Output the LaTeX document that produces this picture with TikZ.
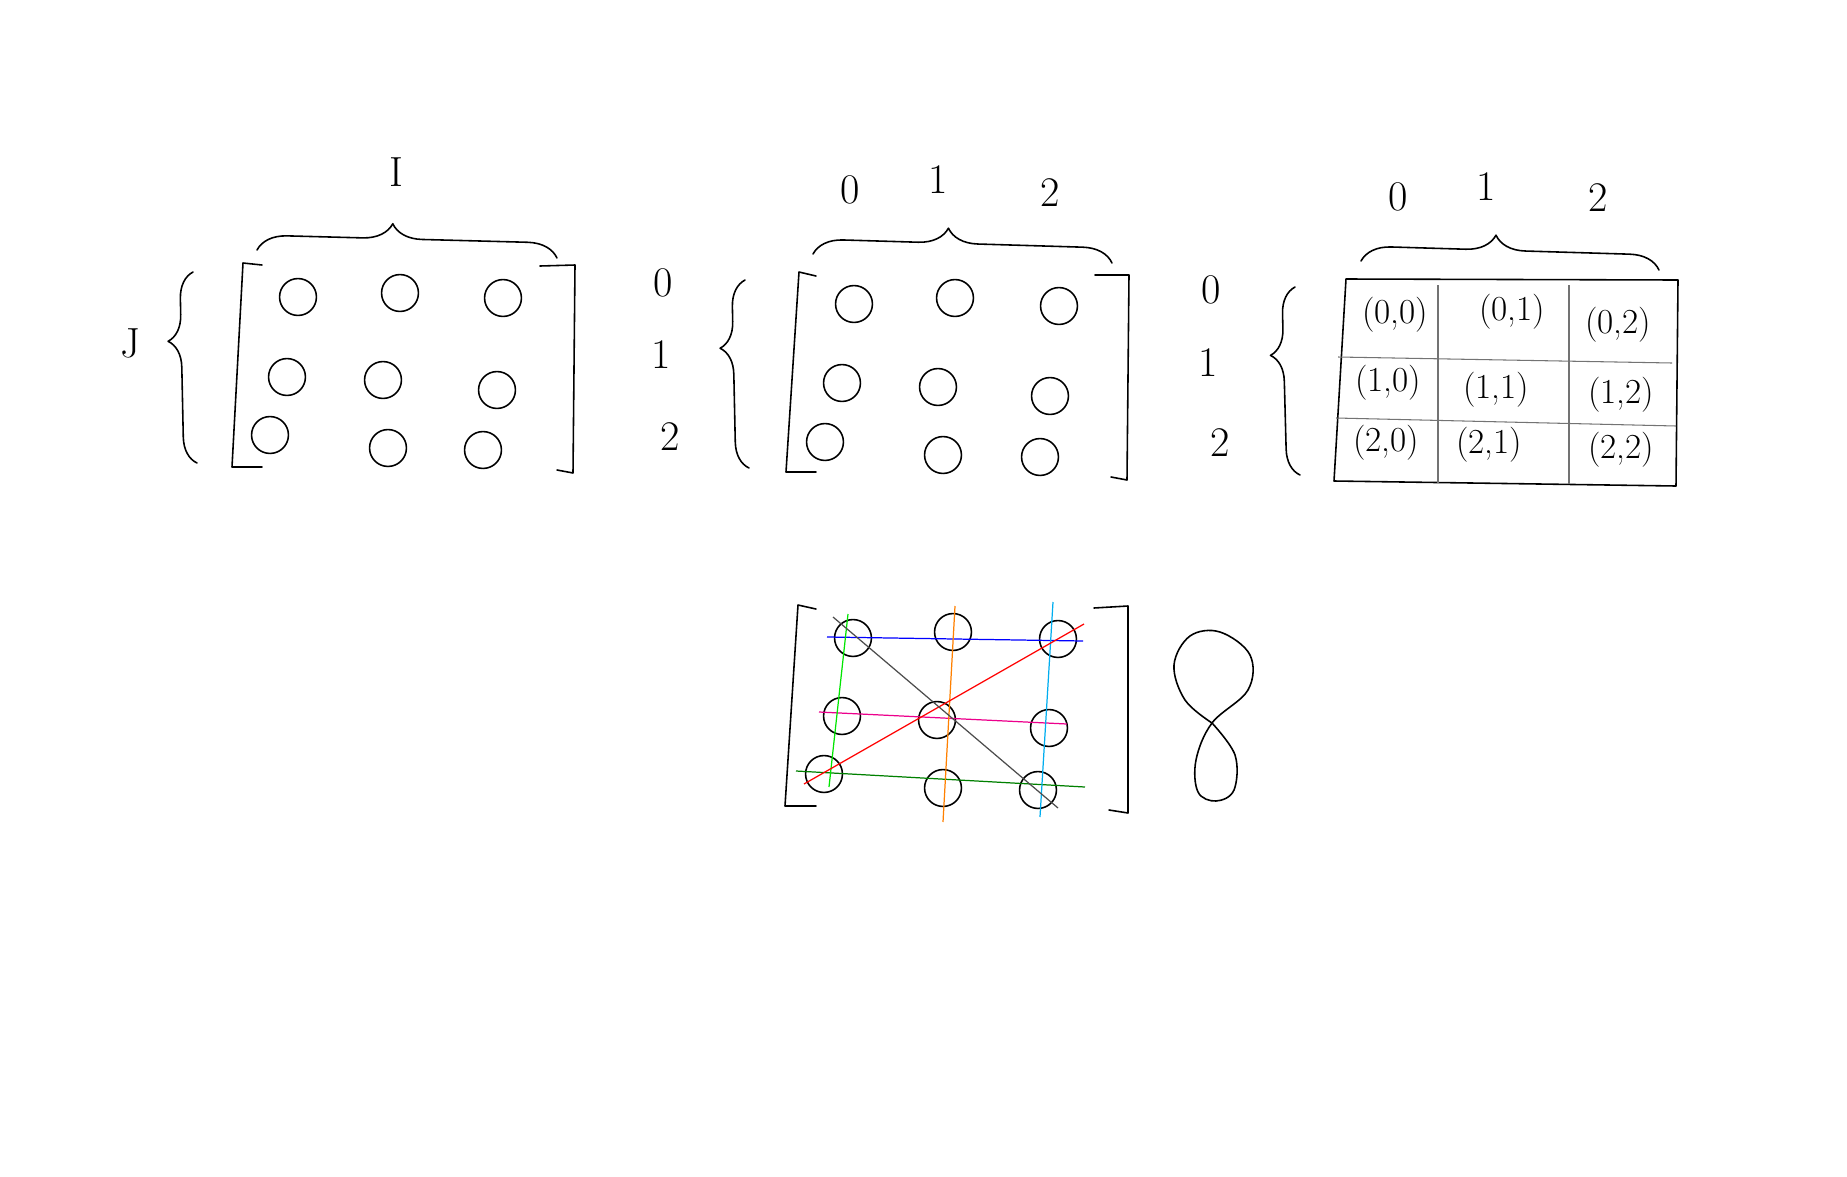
\documentclass[tikz,border=0pt]{standalone}
\usepackage{tikz}
\usetikzlibrary{positioning,decorations.pathreplacing}

\begin{document}
\begin{tikzpicture}[x=0.02cm,y=-0.02cm]
		\tikzstyle{ink}=[line width=0.9pt,line join=round,line cap=round]
		\tikzstyle{dot}=[circle,draw,line width=0.9pt,minimum size=21pt,inner sep=0pt]
		\tikzstyle{lbl}=[font=\fontsize{24}{28}\selectfont,inner sep=0pt]
		\tikzstyle{cell}=[font=\fontsize{20}{24}\selectfont,inner sep=0pt]
		\tikzstyle{topbrace}=[ink,decorate,decoration={brace,amplitude=17pt,aspect=0.45}]
		\tikzstyle{sidebrace}=[ink,decorate,decoration={brace,amplitude=15pt,aspect=0.64}]
		\tikzstyle{rule}=[line width=0.7pt]
		\tikzstyle{grid}=[line width=0.6pt,black!55]

		\useasboundingbox (0,0) rectangle (1847,1177);

		% first matrix
		\node[lbl] (labI) at (396,172) {I};
		\node[lbl] (labJ) at (130,343) {J};
		\draw [topbrace] (257,250) -- (557,258);
		\draw [sidebrace] (197,463) -- (193,272);
		\draw [ink] (262,265) -- (243,263) -- (232,467) -- (262,467);
		\draw [ink] (540,266) -- (575,265) -- (573,473) -- (557,470);
		\foreach \n/\x/\y in {aa/298/297, ab/400/293, ac/503/298,
		                      ba/287/377, bb/383/380, bc/497/390,
		                      ca/270/435, cb/388/448, cc/483/450}
			\node[dot] (a\n) at (\x,\y) {};

		% second matrix
		\node[lbl] (bc0) at (850,190) {0};
		\node[lbl] (bc1) at (938,180) {1};
		\node[lbl] (bc2) at (1050,193) {2};
		\node[lbl] (br0) at (663,283) {0};
		\node[lbl] (br1) at (661,355) {1};
		\node[lbl] (br2) at (670,437) {2};
		\draw [topbrace] (813,254) -- (1112,263);
		\draw [sidebrace] (749,468) -- (745,280);
		\draw [ink] (816,276) -- (799,272) -- (786,472) -- (816,472);
		\draw [ink] (1095,275) -- (1129,275) -- (1127,480) -- (1111,477);
		\foreach \n/\x/\y in {aa/854/304, ab/955/298, ac/1059/306,
		                      ba/842/383, bb/938/387, bc/1050/396,
		                      ca/825/442, cb/943/455, cc/1040/457}
			\node[dot] (b\n) at (\x,\y) {};

		% table
		\node[lbl] (tc0) at (1398,197) {0};
		\node[lbl] (tc1) at (1486,187) {1};
		\node[lbl] (tc2) at (1598,198) {2};
		\node[lbl] (tr0) at (1211,290) {0};
		\node[lbl] (tr1) at (1208,363) {1};
		\node[lbl] (tr2) at (1220,443) {2};
		\draw [topbrace] (1361,261) -- (1659,270);
		\draw [sidebrace] (1300,475) -- (1295,287);
		\draw [ink] (1346,279) -- (1678,280) -- (1676,486) -- (1334,481) -- cycle;
		\draw [grid] (1438,285) -- (1438,483);
		\draw [grid] (1569,285) -- (1569,484);
		\draw [grid] (1338,357) -- (1672,363);
		\draw [grid] (1336,418) -- (1676,426);
		\node[cell] (t00) at (1395,315) {(0,0)};
		\node[cell] (t01) at (1512,312) {(0,1)};
		\node[cell] (t02) at (1618,325) {(0,2)};
		\node[cell] (t10) at (1388,383) {(1,0)};
		\node[cell] (t11) at (1496,390) {(1,1)};
		\node[cell] (t12) at (1621,395) {(1,2)};
		\node[cell] (t20) at (1386,443) {(2,0)};
		\node[cell] (t21) at (1489,445) {(2,1)};
		\node[cell] (t22) at (1621,450) {(2,2)};

		% matrix with lines
		\draw [ink] (816,609) -- (798,605) -- (785,806) -- (816,806);
		\draw [ink] (1094,608) -- (1128,606) -- (1128,813) -- (1109,810);
		\foreach \n/\x/\y in {aa/853/638, ab/953/632, ac/1058/639,
		                      ba/842/716, bb/937/720, bc/1049/728,
		                      ca/824/774, cb/943/788, cc/1038/790}
			\node[dot] (c\n) at (\x,\y) {};
		\draw [rule,blue]              (827,637) -- (1083,641);
		\draw [rule,magenta]           (819,712) -- (1067,724);
		\draw [rule,green!50!black]    (796,771) -- (1085,787);
		\draw [rule,green!90!black]    (848,614) -- (829,787);
		\draw [rule,orange]            (955,606) -- (943,822);
		\draw [rule,cyan]              (1053,602) -- (1040,817);
		\draw [rule,red]               (804,784) -- (1084,624);
		\draw [rule,black!70]          (833,617) -- (1058,808);

		% eight
		\draw [ink] plot[smooth,tension=0.6] coordinates {
			(1212,723) (1185,700) (1174,665) (1190,636) (1220,632) (1250,655)
			(1248,690) (1212,723) (1196,760) (1198,792) (1216,801) (1234,790)
			(1235,755) (1212,723)};
\end{tikzpicture}
\end{document}
